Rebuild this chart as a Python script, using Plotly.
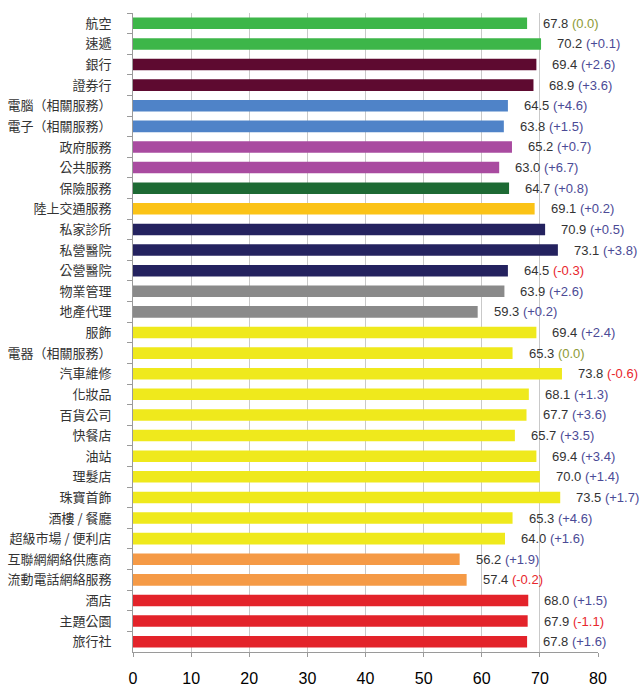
import plotly.graph_objects as go

# Satisfaction index by industry, with year-on-year change
categories = [
    "航空", "速遞", "銀行", "證券行", "電腦（相關服務）", "電子（相關服務）",
    "政府服務", "公共服務", "保險服務", "陸上交通服務", "私家診所", "私營醫院",
    "公營醫院", "物業管理", "地產代理", "服飾", "電器（相關服務）", "汽車維修",
    "化妝品", "百貨公司", "快餐店", "油站", "理髮店", "珠寶首飾", "酒樓 / 餐廳",
    "超級市場 / 便利店", "互聯網網絡供應商", "流動電話網絡服務", "酒店", "主題公園", "旅行社",
]
scores = [
    67.8, 70.2, 69.4, 68.9, 64.5, 63.8, 65.2, 63.0, 64.7, 69.1, 70.9, 73.1,
    64.5, 63.9, 59.3, 69.4, 65.3, 73.8, 68.1, 67.7, 65.7, 69.4, 70.0, 73.5,
    65.3, 64.0, 56.2, 57.4, 68.0, 67.9, 67.8,
]
changes = [
    0.0, 0.1, 2.6, 3.6, 4.6, 1.5, 0.7, 6.7, 0.8, 0.2, 0.5, 3.8,
    -0.3, 2.6, 0.2, 2.4, 0.0, -0.6, 1.3, 3.6, 3.5, 3.4, 1.4, 1.7,
    4.6, 1.6, 1.9, -0.2, 1.5, -1.1, 1.6,
]
sectors = [
    "transport", "transport", "finance", "finance", "it", "it",
    "public", "public", "insurance", "landtransport", "medical", "medical",
    "medical", "property", "property", "retail", "retail", "retail",
    "retail", "retail", "retail", "retail", "retail", "retail", "retail",
    "retail", "telecom", "telecom", "tourism", "tourism", "tourism",
]
x_ticks = [0, 10, 20, 30, 40, 50, 60, 70, 80]

sector_colors = {
    "transport": "#3db649",
    "finance": "#5e0a30",
    "it": "#4f83c8",
    "public": "#a94ba0",
    "insurance": "#1d6a34",
    "landtransport": "#fbc316",
    "medical": "#24225f",
    "property": "#8a8a8a",
    "retail": "#efe91c",
    "telecom": "#f59a46",
    "tourism": "#e3232a",
}

NUM_FONT = "Liberation Sans, Arial, sans-serif"
CJK_FONT = "Noto Sans CJK TC, sans-serif"

fig = go.Figure(
    go.Bar(
        x=scores,
        y=categories,
        orientation="h",
        marker=dict(color=[sector_colors[s] for s in sectors], line=dict(width=0)),
        hoverinfo="x+y",
    )
)


def change_span(v):
    if v > 0:
        txt, col = f"(+{v:.1f})", "#4b4a96"
    elif v < 0:
        txt, col = f"({v:.1f})", "#e8262c"
    else:
        txt, col = f"({v:.1f})", "#8c9a35"
    return f"<span style='color:{col}'>{txt}</span>"


for cat, val, chg in zip(categories, scores, changes):
    fig.add_annotation(
        x=val, y=cat, xref="x", yref="y",
        text=f"{val:.1f} {change_span(chg)}",
        showarrow=False, xanchor="left", xshift=14,
        font=dict(family=NUM_FONT, size=13, color="#333333"),
    )

fig.update_layout(
    width=641, height=686,
    margin=dict(l=133, r=43, t=13, b=34, autoexpand=False),
    paper_bgcolor="white", plot_bgcolor="white",
    bargap=0.44,
    showlegend=False,
    xaxis=dict(
        range=[0, 80], tickvals=x_ticks, ticktext=[str(t) for t in x_ticks],
        showgrid=True, gridcolor="#c9c9c9", gridwidth=1,
        showline=True, linecolor="#9a9a9a", linewidth=1,
        ticks="outside", ticklen=4, tickcolor="#9a9a9a",
        ticklabelstandoff=8, automargin=False,
        tickfont=dict(family=NUM_FONT, size=16, color="#000000"),
        zeroline=False, fixedrange=True,
    ),
    yaxis=dict(
        autorange="reversed", type="category",
        showline=True, linecolor="#9a9a9a", linewidth=1,
        ticks="outside", ticklen=5, tickcolor="#9a9a9a", tickson="boundaries",
        ticklabelstandoff=18, automargin=False,
        tickfont=dict(family=CJK_FONT, size=13, color="#333333"),
        showgrid=False, fixedrange=True,
    ),
)

fig.write_html("out.html")
